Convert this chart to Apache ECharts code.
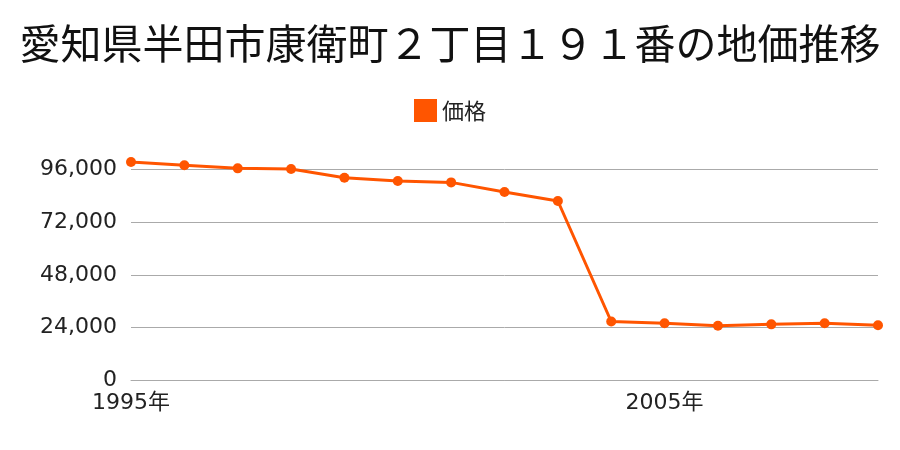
<!DOCTYPE html>
<html><head><meta charset="utf-8">
<script src="https://cdn.jsdelivr.net/npm/echarts@6/dist/echarts.min.js"></script>
<style>html,body{margin:0;padding:0;background:#fff}#c{width:900px;height:450px}</style>
</head><body><div id="c"></div>
<script>
const years = ['1995','1996','1997','1998','1999','2000','2001','2002','2003','2004','2005','2006','2007','2008','2009'];
const prices = [99500,98000,96600,96300,92300,90800,90200,85800,81700,26700,25900,24800,25400,25900,25000];
const yTicks = [0,24000,48000,72000,96000];
const FONT = '"Noto Sans CJK JP", sans-serif';
const NUMFONT = '"DejaVu Sans", "Noto Sans CJK JP", sans-serif';
const chart = echarts.init(document.getElementById('c'));
chart.setOption({
  animation:false,
  title:{text:'愛知県半田市康衛町２丁目１９１番の地価推移',left:'center',top:18,textStyle:{fontFamily:FONT,fontSize:41,fontWeight:'normal',color:'#111'}},
  legend:{data:['価格'],top:94,left:'center',itemWidth:23,itemHeight:23,itemGap:10,icon:'rect',textStyle:{fontFamily:FONT,fontSize:22,color:'#222'}},
  grid:{left:131,right:22,top:162,bottom:70,containLabel:false},
  xAxis:{type:'category',data:years,boundaryGap:false,
    axisLine:{lineStyle:{color:'#aaa'}},axisTick:{show:false},
    axisLabel:{interval:9,formatter:v=>v+'年',fontFamily:NUMFONT,fontSize:22,color:'#222',margin:12}},
  yAxis:{type:'value',min:0,max:Math.max(...prices),interval:24000,
    axisLabel:{fontFamily:NUMFONT,fontSize:22,color:'#222',margin:14,showMaxLabel:false,
      formatter:v=>yTicks.includes(v)?v.toLocaleString('en-US'):''},
    splitLine:{showMaxLine:false,lineStyle:{color:'#aaa'}}},
  series:[{name:'価格',type:'line',data:prices,symbol:'circle',symbolSize:10,
    lineStyle:{width:3,color:'#ff5500'},itemStyle:{color:'#ff5500'}}]
});
</script></body></html>
